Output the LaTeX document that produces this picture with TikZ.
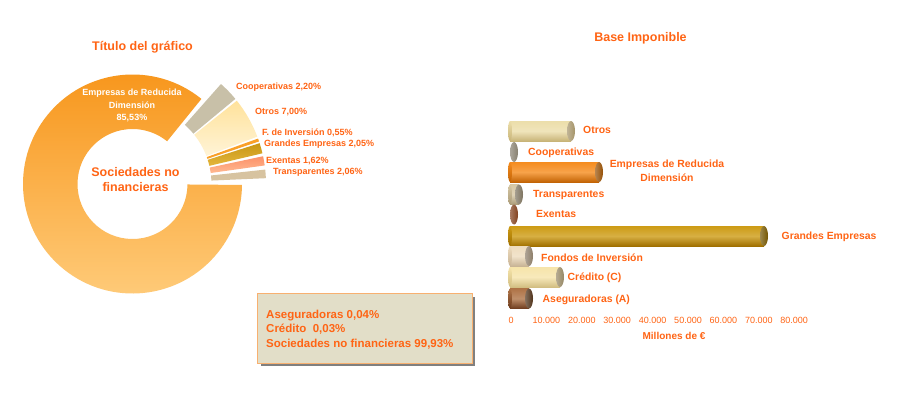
\documentclass[tikz,border=0pt]{standalone}
\usepackage{fontspec}
\setmainfont{Liberation Sans}
\definecolor{txtor}{RGB}{255,100,20}
\definecolor{boxfill}{RGB}{226,222,200}
\definecolor{boxline}{RGB}{248,176,112}
\definecolor{mainTop}{RGB}{247,148,24}
\definecolor{mainBot}{RGB}{255,205,125}
\definecolor{coopC}{RGB}{200,192,168}
\definecolor{otrosT}{RGB}{255,226,155}
\definecolor{otrosB}{RGB}{255,244,215}
\definecolor{finvC}{RGB}{250,160,40}
\definecolor{grT}{RGB}{200,150,20}
\definecolor{grB}{RGB}{228,182,60}
\definecolor{exT}{RGB}{252,145,105}
\definecolor{exB}{RGB}{255,185,145}
\definecolor{trC}{RGB}{215,195,160}
% bar colours
\definecolor{bOtT}{RGB}{236,222,170}\definecolor{bOtB}{RGB}{200,180,120}\definecolor{bOtC}{RGB}{165,148,105}
\definecolor{bCoT}{RGB}{160,155,140}\definecolor{bCoB}{RGB}{120,114,100}\definecolor{bCoC}{RGB}{135,128,112}
\definecolor{bEmT}{RGB}{245,140,30}\definecolor{bEmB}{RGB}{195,100,5}\definecolor{bEmC}{RGB}{150,80,5}
\definecolor{bTrT}{RGB}{215,200,165}\definecolor{bTrB}{RGB}{170,155,120}\definecolor{bTrC}{RGB}{125,115,95}
\definecolor{bExT}{RGB}{215,120,70}\definecolor{bExB}{RGB}{160,75,35}\definecolor{bExC}{RGB}{130,65,30}
\definecolor{bGrT}{RGB}{205,155,20}\definecolor{bGrB}{RGB}{160,112,0}\definecolor{bGrC}{RGB}{115,85,0}
\definecolor{bFoT}{RGB}{238,220,190}\definecolor{bFoB}{RGB}{200,180,150}\definecolor{bFoC}{RGB}{140,125,105}
\definecolor{bCrT}{RGB}{246,228,170}\definecolor{bCrB}{RGB}{210,190,130}\definecolor{bCrC}{RGB}{150,135,100}
\definecolor{bAsT}{RGB}{175,115,70}\definecolor{bAsB}{RGB}{110,60,30}\definecolor{bAsC}{RGB}{80,50,25}
\newcommand\fsz[2]{\fontsize{#1}{#2}\selectfont}
% style, start angle, end angle, inner radius, outer radius
\newcommand\annsec[5]{%
  \path[#1] (#2:#5) arc[start angle=#2, end angle=#3, radius=#5]
     -- (#3:#4) arc[start angle=#3, end angle=#2, radius=#4] -- cycle;}
\newcommand\cylbar[4]{% yc, xend, colour prefix, draw body?
  \ifnum#4=1
  \path[top color=#3T, bottom color=#3B, middle color=#3T!80!white] (510,#1-10) rectangle (#2-4,#1+10);
  \path[top color=#3T, bottom color=#3B] (510,#1) ellipse[x radius=2, y radius=10];
  \fi
  \path[left color=#3C!70!white, right color=#3C] (#2-4,#1) ellipse[x radius=4, y radius=10];
}
\begin{document}
\begin{tikzpicture}[x=1pt,y=-1pt,
  plbl/.style={text=txtor, font=\bfseries\fsz{9}{11}, inner sep=0pt, anchor=west},
  blbl/.style={text=txtor, font=\bfseries\fsz{10.4}{14}, inner sep=0pt, anchor=west},
  tick/.style={text=txtor, font=\fsz{9}{11}, inner sep=0pt},
  ttl/.style={text=txtor, font=\bfseries\fsz{12.5}{15}, inner sep=0pt}]
\fill[white] (0,0) rectangle (901,404);
\useasboundingbox (0,0) rectangle (901,404);

% ---------- pie ----------
\node[ttl] (t1) at (142.5,47) {Título del gráfico};
\begin{scope}[shift={(132.5,184)}, y=1pt]
  \annsec{top color=mainTop, bottom color=mainBot}{51}{359.5}{55}{109.5}
  \annsec{fill=coopC}{39.6}{48.5}{79}{133.5}
  \annsec{top color=otrosT, bottom color=otrosB}{20.8}{38.6}{79}{133.5}
  \annsec{fill=finvC}{18.6}{19.9}{79}{133.5}
  \annsec{top color=grT, bottom color=grB}{13.3}{17.8}{79}{133.5}
  \annsec{top color=exT, bottom color=exB}{8}{12}{79}{133.5}
  \annsec{fill=trC}{2.5}{6.2}{79}{133.5}
\end{scope}
\node[text=white, font=\bfseries\fsz{9}{12.5}, align=center, inner sep=0pt] (erd) at (132,105.5)
  {Empresas de Reducida\\Dimensión\\85,53\%};
\node[ttl, align=center] (snf) at (135.5,179.5) {Sociedades no\\financieras};
\node[plbl] (lcoop) at (236,87) {Cooperativas 2,20\%};
\node[plbl] (lotros) at (255,112) {Otros 7,00\%};
\node[plbl] (lfinv) at (262,133) {F. de Inversión 0,55\%};
\node[plbl] (lgr) at (264,144) {Grandes Empresas 2,05\%};
\node[plbl] (lex) at (266,161.5) {Exentas 1,62\%};
\node[plbl] (ltr) at (273,172) {Transparentes 2,06\%};

% ---------- box ----------
\fill[black!50] (260.5,296.5) rectangle (475,366);
\draw[boxline, fill=boxfill, line width=1pt] (257,293) rectangle (472,363);
\node[text=txtor, font=\bfseries\fsz{11.5}{14.7}, align=left, anchor=west, inner sep=0pt] (boxtxt) at (266,329.7)
  {Aseguradoras 0,04\%\\Crédito\ \ 0,03\%\\Sociedades no financieras 99,93\%};

% ---------- bars ----------
\node[ttl] (t2) at (640.5,38) {Base Imponible};
\cylbar{131}{575}{bOt}{1}
\cylbar{152}{518}{bCo}{0}
\cylbar{172}{603}{bEm}{1}
\cylbar{194.5}{523}{bTr}{1}
\cylbar{214.5}{518}{bEx}{0}
\cylbar{236}{768}{bGr}{1}
\cylbar{256}{533}{bFo}{1}
\cylbar{277}{564}{bCr}{1}
\cylbar{298.5}{533}{bAs}{1}
\node[blbl] (bl1) at (583,130) {Otros};
\node[blbl] (bl2) at (528,153) {Cooperativas};
\node[blbl, anchor=center, align=center] (bl3) at (667,171) {Empresas de Reducida\\Dimensión};
\node[blbl] (bl4) at (533,195) {Transparentes};
\node[blbl] (bl5) at (536,214) {Exentas};
\node[blbl] (bl6) at (781.5,236.5) {Grandes Empresas};
\node[blbl] (bl7) at (541,258) {Fondos de Inversión};
\node[blbl] (bl8) at (567.5,278) {Crédito (C)};
\node[blbl] (bl9) at (542.5,300) {Aseguradoras (A)};
\foreach \v [count=\i from 0] in {0,10.000,20.000,30.000,40.000,50.000,60.000,70.000,80.000}
  \node[tick] (tk\i) at (511+35.4*\i,320) {\v};
\node[text=txtor, font=\bfseries\fsz{10}{12}, inner sep=0pt] (axt) at (674,336) {Millones de €};
\end{tikzpicture}
\end{document}
